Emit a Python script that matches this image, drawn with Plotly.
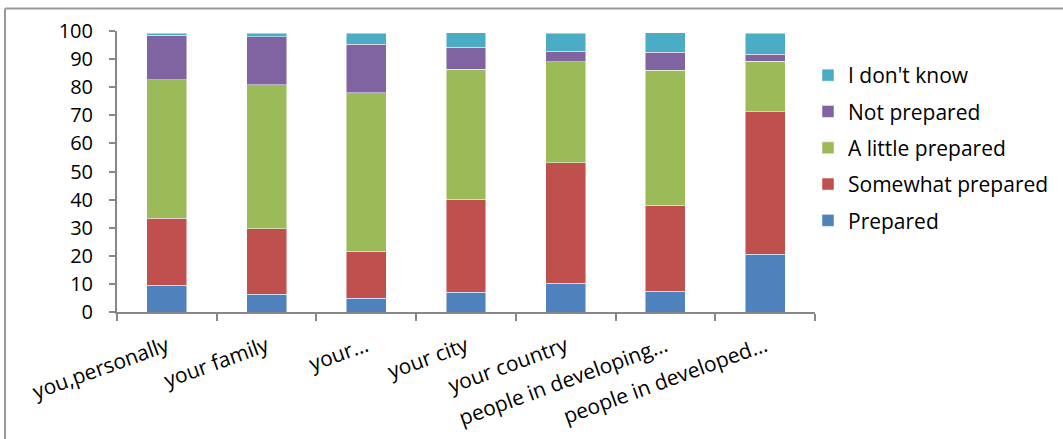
import plotly.graph_objects as go

categories = ["you,personally", "your family", "your…", "your city", "your country",
              "people in developing…", "people in developed…"]
prepared = [9.6, 6.3, 4.9, 7.0, 10.3, 7.4, 20.5]
somewhat = [23.7, 23.4, 16.8, 33.1, 42.8, 30.6, 50.7]
little = [49.3, 51.1, 56.3, 46.3, 35.9, 48.0, 18.1]
not_prep = [15.9, 17.2, 17.3, 7.8, 3.8, 6.4, 2.4]
dont_know = [0.7, 1.2, 3.9, 5.2, 6.4, 7.0, 7.5]
y_ticks = list(range(0, 101, 10))

series = [
    ("Prepared", prepared, "#4F81BD"),
    ("Somewhat prepared", somewhat, "#C0504D"),
    ("A little prepared", little, "#9BBB59"),
    ("Not prepared", not_prep, "#8064A2"),
    ("I don't know", dont_know, "#4BACC6"),
]

fig = go.Figure()
n = len(series)
for i, (name, vals, col) in enumerate(series):
    fig.add_trace(go.Bar(x=categories, y=vals, name=name, legendgroup=name,
                         legendrank=(n - i) * 100,
                         marker=dict(color=col, line=dict(color="rgba(255,255,255,0.6)", width=0.8))))

W, H = 1063, 439
L, R, T, B = 117, 248, 31, 127
pw, ph = W - L - R, H - T - B
axis_col = "#878787"
frame_col = "#9a9a9a"
font_fam = "Open Sans, Noto Sans, sans-serif"

fig.update_layout(
    width=W, height=H, barmode="stack", bargap=0.6,
    margin=dict(l=L, r=R, t=T, b=B, autoexpand=False),
    paper_bgcolor="white", plot_bgcolor="white",
    font=dict(family=font_fam, size=21, color="black"),
    legend=dict(traceorder="grouped", x=(808 - L) / pw, y=1 - (55 - T) / ph,
                xanchor="left", yanchor="top",
                font=dict(size=21), tracegroupgap=6, itemwidth=30),
    showlegend=True,
)
fig.update_xaxes(showline=True, linecolor=axis_col, linewidth=2, ticks="outside",
                 tickson="boundaries", ticklen=7, tickcolor=axis_col, tickwidth=2,
                 tickangle=-20, tickfont=dict(size=21), ticklabelstandoff=12, showgrid=False)
fig.update_yaxes(range=[0, 100], tickvals=y_ticks, showline=True, linecolor=axis_col, linewidth=2,
                 ticks="outside", ticklen=6, tickcolor=axis_col, tickwidth=2, ticklabelstandoff=12,
                 showgrid=False, zeroline=False, tickfont=dict(size=20))

# outer chart frame: top and left edges
top_y = 1 + (T - 8.5) / ph
left_x = (5 - L) / pw
fig.add_shape(type="line", xref="paper", yref="paper", x0=left_x, x1=(W - L) / pw,
              y0=top_y, y1=top_y, line=dict(color=frame_col, width=2), layer="below")
fig.add_shape(type="line", xref="paper", yref="paper", x0=left_x, x1=left_x,
              y0=-(H - T - ph) / ph, y1=top_y, line=dict(color=frame_col, width=2), layer="below")

fig.write_html("out.html", config={"displayModeBar": False},
               post_script="document.body.style.margin='0';")
